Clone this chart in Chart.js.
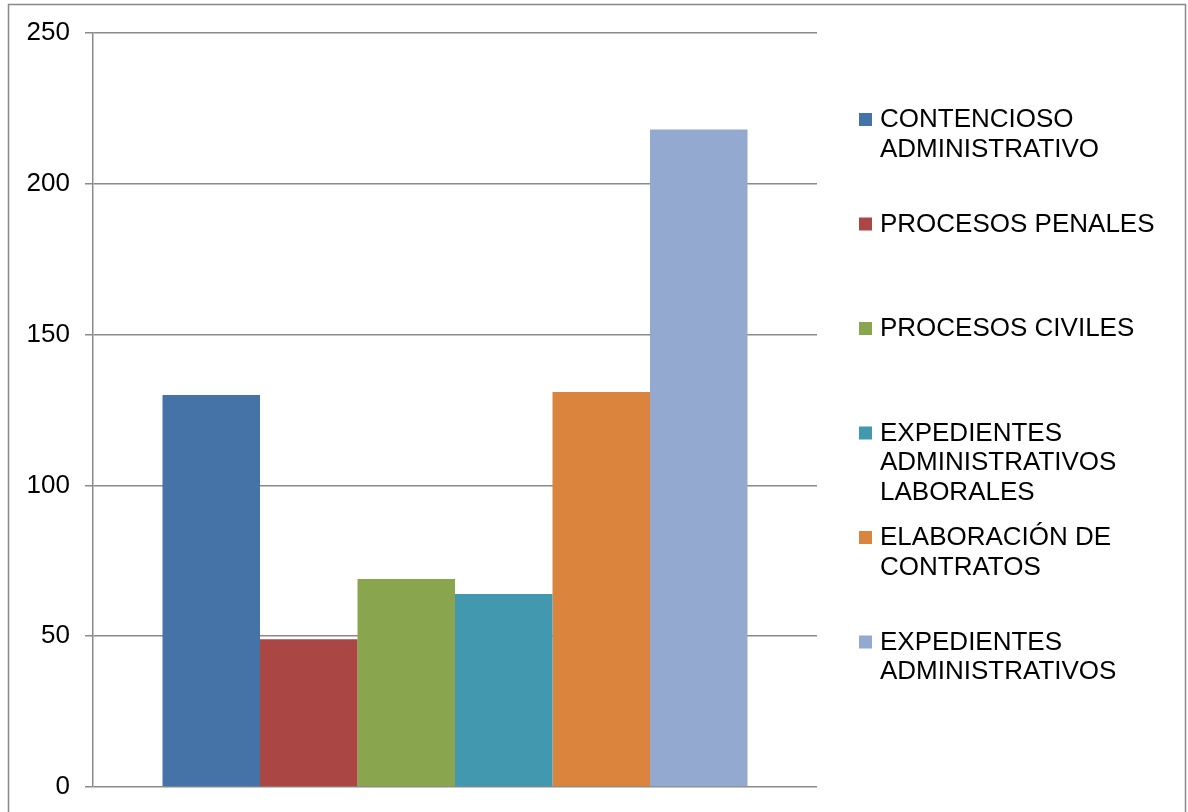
<!DOCTYPE html>
<html>
<head>
<meta charset="utf-8">
<script src="https://cdn.jsdelivr.net/npm/chart.js@4"></script>
<style>
  html, body { margin: 0; padding: 0; background: #fff; }
  #wrap { width: 1188px; height: 812px; position: relative; }
</style>
</head>
<body>
<div id="wrap"><canvas id="chart" width="1188" height="812"></canvas></div>
<script>
// datos
const categories = [""];
const seriesNames = [
  ["CONTENCIOSO", "ADMINISTRATIVO"],
  ["PROCESOS PENALES"],
  ["PROCESOS CIVILES"],
  ["EXPEDIENTES", "ADMINISTRATIVOS", "LABORALES"],
  ["ELABORACIÓN DE", "CONTRATOS"],
  ["EXPEDIENTES", "ADMINISTRATIVOS"],
];
const seriesValues = [130, 49, 69, 64, 131, 218];
const seriesColors = ["#4572A7", "#AA4643", "#89A54E", "#4198AF", "#DB843D", "#93A9CF"];
const yTicks = [0, 50, 100, 150, 200, 250];

const FONT = "'Liberation Sans', Arial, sans-serif";

// leyenda a la derecha con etiquetas de varias líneas
const sideLegend = {
  id: "sideLegend",
  afterDraw(chart) {
    const ctx = chart.ctx;
    ctx.save();
    ctx.font = "26px " + FONT;
    ctx.textBaseline = "middle";
    ctx.textAlign = "left";
    chart.data.datasets.forEach((ds, i) => {
      const y0 = 120 + i * 104.5;
      ctx.fillStyle = ds.backgroundColor;
      ctx.fillRect(859, y0 - 7, 13, 13);
      ctx.fillStyle = "#000";
      ds.lines.forEach((line, k) => {
        ctx.fillText(line, 880, y0 + k * 29.5);
      });
    });
    // marco exterior
    ctx.strokeStyle = "#888";
    ctx.lineWidth = 1.5;
    ctx.strokeRect(8.5, 4.5, 1177, 830);
    ctx.restore();
  },
};

const ctx = document.getElementById("chart").getContext("2d");
new Chart(ctx, {
  type: "bar",
  data: {
    labels: categories,
    datasets: seriesNames.map((name, i) => ({
      label: name.join(" "),
      lines: name,
      data: [seriesValues[i]],
      backgroundColor: seriesColors[i],
      borderWidth: 0,
      categoryPercentage: 0.808,
      barPercentage: 1.0,
    })),
  },
  options: {
    responsive: false,
    animation: false,
    devicePixelRatio: 1,
    layout: { padding: { left: 0, top: 33, right: 371, bottom: 25 } },
    plugins: {
      legend: { display: false },
      tooltip: { enabled: false },
    },
    scales: {
      x: { display: false },
      y: {
        min: 0,
        max: 250,
        afterFit(scale) {
          scale.width = 93;
          scale.paddingTop = 0;
          scale.paddingBottom = 0;
        },
        afterBuildTicks(scale) {
          scale.ticks = yTicks.map((v) => ({ value: v }));
        },
        ticks: {
          color: "#000",
          padding: 15,
          font: { family: FONT, size: 26, lineHeight: 1 },
        },
        grid: {
          color: "#8a8a8a",
          lineWidth: 1.5,
          tickLength: 8,
        },
        border: { display: true, color: "#8a8a8a", width: 1.5 },
      },
    },
  },
  plugins: [sideLegend],
});
</script>
</body>
</html>
